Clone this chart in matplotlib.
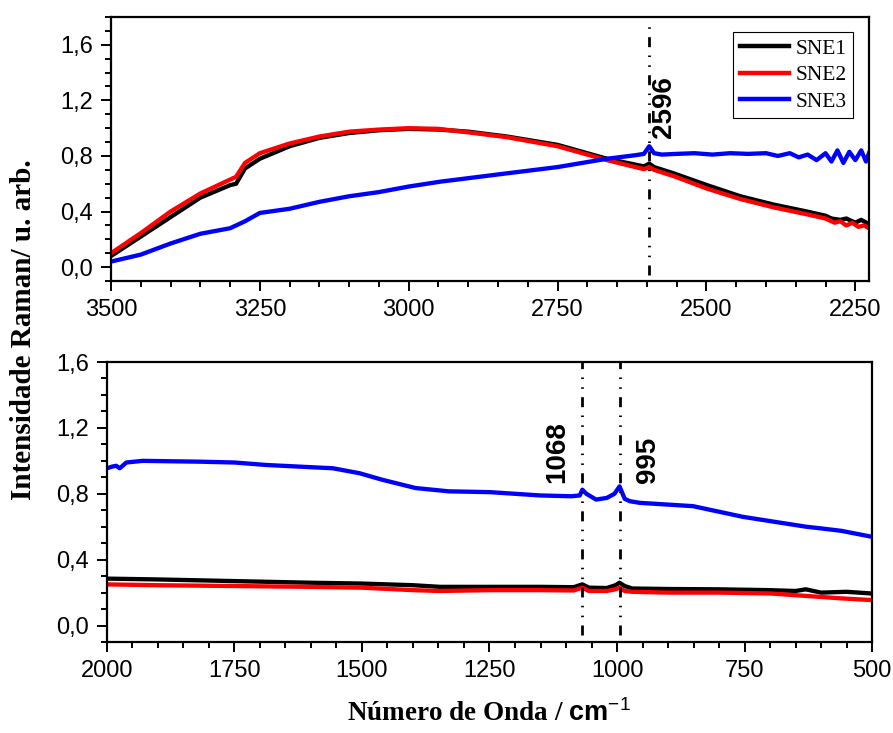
import matplotlib
matplotlib.use('Agg')
import matplotlib.pyplot as plt
from matplotlib.ticker import MultipleLocator, FuncFormatter

plt.rcParams['mathtext.fontset'] = 'custom'
plt.rcParams['mathtext.rm'] = 'Liberation Sans'
plt.rcParams['mathtext.bf'] = 'Liberation Sans:bold'

# ---- top panel data (3500 - 2227 cm-1)
top_x1 = [3500, 3450, 3400, 3350, 3300, 3290, 3275, 3250, 3200, 3150, 3100, 3050, 3000, 2950,
          2900, 2835, 2750, 2667, 2605, 2596, 2588, 2555, 2499, 2443, 2387, 2331, 2300, 2290,
          2275, 2265, 2250, 2240, 2227]
top_sne1 = [0.08, 0.22, 0.36, 0.50, 0.59, 0.60, 0.71, 0.78, 0.87, 0.93, 0.965, 0.985, 0.995, 0.99,
            0.975, 0.94, 0.88, 0.78, 0.725, 0.745, 0.72, 0.675, 0.59, 0.51, 0.45, 0.40, 0.37, 0.35,
            0.34, 0.35, 0.32, 0.34, 0.31]

top_x2 = [3500, 3450, 3400, 3350, 3300, 3290, 3275, 3250, 3200, 3150, 3100, 3050, 3000, 2950,
          2900, 2835, 2750, 2667, 2605, 2596, 2588, 2555, 2499, 2443, 2387, 2331, 2300, 2285,
          2275, 2265, 2255, 2245, 2235, 2227]
top_sne2 = [0.10, 0.245, 0.40, 0.53, 0.63, 0.65, 0.75, 0.82, 0.89, 0.94, 0.975, 0.99, 1.0, 0.995,
            0.97, 0.935, 0.87, 0.77, 0.705, 0.72, 0.70, 0.655, 0.565, 0.49, 0.43, 0.38, 0.35, 0.32,
            0.33, 0.30, 0.32, 0.29, 0.30, 0.28]

top_x3 = [3500, 3450, 3400, 3350, 3300, 3275, 3250, 3200, 3150, 3100, 3050, 3000, 2947, 2835,
          2750, 2667, 2620, 2605, 2596, 2588, 2575, 2550, 2520, 2490, 2460, 2430, 2400, 2380,
          2360, 2345, 2330, 2315, 2300, 2290, 2280, 2270, 2260, 2250, 2240, 2232, 2227]
top_sne3 = [0.04, 0.09, 0.17, 0.24, 0.28, 0.33, 0.39, 0.42, 0.47, 0.51, 0.54, 0.58, 0.615, 0.675,
            0.72, 0.78, 0.805, 0.815, 0.87, 0.82, 0.81, 0.815, 0.82, 0.81, 0.82, 0.815, 0.82, 0.80,
            0.82, 0.79, 0.81, 0.77, 0.82, 0.76, 0.84, 0.75, 0.83, 0.77, 0.84, 0.76, 0.82]

# ---- bottom panel data (2000 - 500 cm-1)
bot_x1 = [2000, 1900, 1750, 1600, 1500, 1400, 1347, 1249, 1151, 1085, 1068, 1055, 1020, 1003,
          995, 985, 970, 900, 800, 700, 650, 630, 600, 550, 502]
bot_sne1 = [0.285, 0.28, 0.27, 0.26, 0.255, 0.245, 0.235, 0.235, 0.235, 0.233, 0.25, 0.23, 0.228,
            0.245, 0.26, 0.24, 0.225, 0.222, 0.22, 0.215, 0.21, 0.22, 0.20, 0.205, 0.195]

bot_x2 = [2000, 1900, 1750, 1600, 1500, 1400, 1347, 1249, 1151, 1085, 1068, 1055, 1020, 1003,
          995, 985, 970, 900, 800, 700, 629, 560, 502]
bot_sne2 = [0.25, 0.245, 0.24, 0.235, 0.23, 0.215, 0.21, 0.215, 0.215, 0.213, 0.23, 0.21, 0.21,
            0.22, 0.23, 0.21, 0.205, 0.2, 0.2, 0.195, 0.18, 0.165, 0.155]

bot_x3 = [2000, 1990, 1982, 1975, 1962, 1930, 1818, 1750, 1688, 1623, 1557, 1505, 1460, 1395,
          1330, 1249, 1151, 1090, 1073, 1068, 1060, 1041, 1020, 1005, 995, 985, 975, 955, 851,
          753, 629, 600, 560, 502]
bot_sne3 = [0.955, 0.965, 0.97, 0.955, 0.99, 1.0, 0.995, 0.99, 0.975, 0.965, 0.955, 0.925, 0.885,
            0.835, 0.815, 0.81, 0.79, 0.785, 0.79, 0.825, 0.80, 0.765, 0.775, 0.80, 0.845, 0.77,
            0.755, 0.745, 0.725, 0.66, 0.60, 0.59, 0.575, 0.54]

labels = ['SNE1', 'SNE2', 'SNE3']
colors = ['black', 'red', 'blue']
top_peaks = [2596]
bot_peaks = [1068, 995]

sans = 'Liberation Sans'
serif = 'Liberation Serif'
dashdotdot = (0, (3.6, 3.0, 0.55, 3.0, 0.55, 3.0))

fig = plt.figure(figsize=(8.93, 7.33), dpi=100)
ax1 = fig.add_axes([0.1243, 0.6166, 0.8488, 0.3602])
ax2 = fig.add_axes([0.1198, 0.1241, 0.8567, 0.3820])

comma = FuncFormatter(lambda v, p: f'{v:.1f}'.replace('.', ','))

for ax, series in [(ax1, [(top_x1, top_sne1), (top_x2, top_sne2), (top_x3, top_sne3)]),
                   (ax2, [(bot_x1, bot_sne1), (bot_x2, bot_sne2), (bot_x3, bot_sne3)])]:
    for (x, y), c, lab in zip(series, colors, labels):
        ax.plot(x, y, color=c, lw=3.1, label=lab, solid_joinstyle='round')
    ax.xaxis.set_major_locator(MultipleLocator(250))
    ax.xaxis.set_minor_locator(MultipleLocator(50))
    ax.yaxis.set_major_locator(MultipleLocator(0.4))
    ax.yaxis.set_minor_locator(MultipleLocator(0.1))
    ax.yaxis.set_major_formatter(comma)
    ax.tick_params(which='both', direction='out', width=1.4, top=False, right=False)
    ax.tick_params(which='major', length=7, labelsize=17, pad=6)
    ax.tick_params(which='minor', length=4)
    for lbl in ax.get_xticklabels() + ax.get_yticklabels():
        lbl.set_fontfamily(sans)
    for s in ax.spines.values():
        s.set_linewidth(1.6)

ax1.set_xlim(3500, 2227)
ax1.set_ylim(-0.1, 1.8)
ax2.set_xlim(2000, 500)
ax2.set_ylim(-0.1, 1.6)

for p in top_peaks:
    ax1.plot([p, p], [-0.06, 1.76], color='black', lw=2, ls=dashdotdot)
    ax1.text(p - 24, 0.93, str(p), rotation=90, ha='center', va='bottom',
             fontsize=20, fontweight='bold', family=sans)
for p, dx in zip(bot_peaks, [50, -56]):
    ax2.plot([p, p], [-0.055, 1.6], color='black', lw=2, ls=dashdotdot)
    ax2.text(p + dx, 0.867, str(p), rotation=90, ha='center', va='bottom',
             fontsize=20, fontweight='bold', family=sans)

leg = ax1.legend(loc='upper right', bbox_to_anchor=(0.979, 0.943), borderaxespad=0,
                 prop={'family': serif, 'size': 15.5}, handlelength=2.3, fancybox=False,
                 edgecolor='black', framealpha=1, borderpad=0.3, labelspacing=0.3,
                 handletextpad=0.3)
leg.get_frame().set_linewidth(0.8)
for h in leg.get_lines():
    h.set_linewidth(3.2)

fig.text(0.026, 0.55, 'Intensidade Raman/ u. arb.', rotation=90, ha='center', va='center',
         fontsize=21, fontweight='bold', family=serif)
fig.text(0.547, 0.008, 'Número de Onda / $\\mathbf{cm}^{-1}$', ha='center', va='bottom',
         fontsize=19.5, fontweight='bold', family=serif)

fig.savefig('out.png', dpi=100)
